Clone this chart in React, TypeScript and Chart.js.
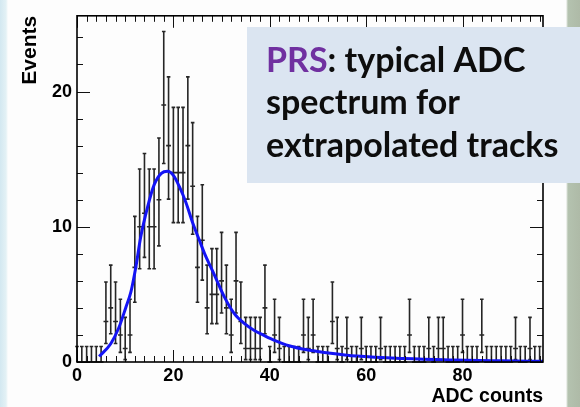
import React, { useEffect, useRef } from "react";
import { Chart, registerables } from "chart.js";

Chart.register(...registerables);

// ---- data ----
const BIN_START = 0; // centre of first bin
const BIN_WIDTH = 1;
const counts = [
  0, 0, 0, 0, 0, 0, 3, 4, 3, 2,
  1, 2, 7, 10, 11, 10, 10, 12, 19, 16,
  14, 14, 14, 16, 13, 7, 9, 4, 5, 5,
  6, 4, 2, 6, 3, 1, 1, 1, 1, 4,
  0, 2, 1, 0, 0, 0, 0, 2, 1, 2,
  0, 0, 0, 3, 1, 0, 1, 0, 0, 1,
  0, 0, 0, 1, 0, 0, 0, 0, 0, 2,
  0, 0, 0, 1, 0, 1, 1, 0, 0, 0,
  2, 0, 0, 0, 2, 0, 0, 0, 0, 0,
  0, 1, 0, 0, 1, 0, 0,
];
const ZERO_BIN_UPPER = 1.15;

const fitX = [4.6, 7.0, 8.7, 10.1, 11.2, 12.2, 13.2, 14.6, 16.0, 17.5, 18.8, 20.0, 21.2, 22.6, 24.0, 25.4, 26.5, 28.5, 30.6, 32.6, 34.7, 36.8, 38.9, 41.0, 44.0, 48.0, 52.0, 58.0, 68.0, 78.0, 88.0, 96.7];
const fitY = [0.4, 1.35, 2.55, 4.0, 5.2, 7.0, 9.2, 11.4, 13.1, 13.95, 14.1, 13.8, 13.0, 11.8, 10.3, 9.0, 8.0, 6.45, 4.8, 3.6, 2.85, 2.33, 1.95, 1.6, 1.2, 0.88, 0.68, 0.44, 0.25, 0.15, 0.09, 0.05];

const xTickValues = [0, 20, 40, 60, 80];
const yTickValues = [0, 10, 20];
const X_MIN = 0;
const X_MAX = 96.7;
const Y_MIN = 0;
const Y_MAX = 25.6;
const X_MINOR_STEP = 2;
const Y_MINOR_STEP = 2;

const xTitle = "ADC counts";
const yTitle = "Events";
const boxLines: { text: string; color: string }[][] = [
  [{ text: "PRS", color: "#7030a0" }, { text: ": typical ADC", color: "#0d0d0d" }],
  [{ text: "spectrum for", color: "#0d0d0d" }],
  [{ text: "extrapolated tracks", color: "#0d0d0d" }],
];

// ---- Poisson (Garwood) error interval ----
function poissonCdf(n: number, mu: number) {
  let term = Math.exp(-mu);
  let sum = term;
  for (let k = 1; k <= n; k++) {
    term *= mu / k;
    sum += term;
  }
  return sum;
}
function solveMu(n: number, target: number) {
  let lo = 0, hi = 100;
  for (let i = 0; i < 80; i++) {
    const mid = (lo + hi) / 2;
    if (poissonCdf(n, mid) > target) lo = mid; else hi = mid;
  }
  return (lo + hi) / 2;
}
function interval(n: number): [number, number] {
  if (n === 0) return [0, ZERO_BIN_UPPER];
  const a = 0.158655;
  return [solveMu(n - 1, 1 - a), solveMu(n, a)];
}

const histPoints = counts.map((c, i) => ({ x: BIN_START + i * BIN_WIDTH, y: c }));
const fitPoints = fitX.map((x, i) => ({ x, y: fitY[i] }));

const histPlugin = {
  id: "histErrors",
  beforeDatasetsDraw(chart: any) {
    const { ctx, scales } = chart;
    const xs = scales.x, ys = scales.y;
    ctx.save();
    ctx.strokeStyle = "#262626";
    ctx.lineWidth = 1.6;
    ctx.beginPath();
    histPoints.forEach((p) => {
      const [lo, hi] = interval(p.y);
      const px = xs.getPixelForValue(p.x);
      const xl = xs.getPixelForValue(p.x - BIN_WIDTH / 2);
      const xr = xs.getPixelForValue(p.x + BIN_WIDTH / 2);
      const py = ys.getPixelForValue(p.y);
      const pl = ys.getPixelForValue(lo);
      const ph = ys.getPixelForValue(hi);
      ctx.moveTo(px, pl);
      ctx.lineTo(px, ph);
      ctx.moveTo(px - 1.8, ph);
      ctx.lineTo(px + 1.8, ph);
      if (p.y > 0) {
        ctx.moveTo(px - 1.8, pl);
        ctx.lineTo(px + 1.8, pl);
      }
      ctx.moveTo(Math.max(xl, chart.chartArea.left), py);
      ctx.lineTo(Math.min(xr, chart.chartArea.right), py);
    });
    ctx.stroke();
    ctx.restore();
  },
};

const framePlugin = {
  id: "frameTicks",
  afterDatasetsDraw(chart: any) {
    const { ctx, chartArea: a, scales } = chart;
    const xs = scales.x, ys = scales.y;
    ctx.save();
    ctx.strokeStyle = "#111";
    ctx.lineWidth = 1;
    ctx.beginPath();
    for (let v = X_MIN; v <= X_MAX + 1e-6; v += X_MINOR_STEP) {
      const px = Math.round(xs.getPixelForValue(v)) + 0.5;
      const major = xTickValues.includes(Math.round(v)) && Math.abs(v - Math.round(v)) < 1e-6;
      const len = major ? 12 : 6;
      ctx.moveTo(px, a.bottom);
      ctx.lineTo(px, a.bottom - len);
      ctx.moveTo(px, a.top);
      ctx.lineTo(px, a.top + len);
    }
    for (let v = Y_MIN; v <= Y_MAX + 1e-6; v += Y_MINOR_STEP) {
      const py = Math.round(ys.getPixelForValue(v)) + 0.5;
      const major = yTickValues.includes(Math.round(v)) && Math.abs(v - Math.round(v)) < 1e-6;
      const len = major ? 13 : 6;
      ctx.moveTo(a.left, py);
      ctx.lineTo(a.left + len, py);
      ctx.moveTo(a.right, py);
      ctx.lineTo(a.right - len, py);
    }
    ctx.stroke();
    ctx.lineWidth = 1.6;
    ctx.strokeStyle = "#000";
    ctx.strokeRect(a.left, a.top, a.right - a.left, a.bottom - a.top);
    ctx.restore();
  },
};

const boxPlugin = {
  id: "textBox",
  afterDraw(chart: any) {
    const { ctx } = chart;
    ctx.save();
    ctx.fillStyle = "#dbe5f1";
    ctx.fillRect(247, 27, 333, 156);
    ctx.font = "bold 34px Lato, 'Open Sans', sans-serif";
    ctx.textBaseline = "alphabetic";
    ctx.textAlign = "left";
    const baselines = [72, 114, 157];
    boxLines.forEach((line, i) => {
      let x = 266;
      line.forEach((seg) => {
        ctx.fillStyle = seg.color;
        ctx.fillText(seg.text, x, baselines[i]);
        x += ctx.measureText(seg.text).width;
      });
    });
    ctx.restore();
  },
};

export default function App() {
  const ref = useRef<HTMLCanvasElement | null>(null);
  useEffect(() => {
    if (!ref.current) return;
    const family = "'Liberation Sans', Arial, sans-serif";
    const axisFont = { family, weight: "bold" as const, size: 18 };
    const xTitleFont = { family, weight: "bold" as const, size: 19.5 };
    const yTitleFont = { family, weight: "bold" as const, size: 21 };
    const chart = new Chart(ref.current, {
      type: "scatter",
      data: {
        datasets: [
          {
            type: "scatter",
            data: histPoints,
            pointRadius: 0,
            showLine: false,
          } as any,
          {
            type: "line",
            data: fitPoints,
            borderColor: "#1414f5",
            borderWidth: 3,
            pointRadius: 0,
            fill: false,
            cubicInterpolationMode: "monotone",
          } as any,
        ],
      },
      options: {
        animation: false,
        responsive: false,
        devicePixelRatio: 1,
        layout: { padding: { left: 0, top: 10, right: 37, bottom: 0 } },
        plugins: { legend: { display: false }, tooltip: { enabled: false } },
        scales: {
          x: {
            type: "linear",
            min: X_MIN,
            max: X_MAX,
            grid: { display: false, drawTicks: false },
            border: { display: false },
            afterBuildTicks: (s: any) => {
              s.ticks = xTickValues.map((v) => ({ value: v }));
            },
            afterFit: (s: any) => {
              s.height = 45;
            },
            ticks: { color: "#000", font: axisFont, padding: 3, maxRotation: 0, autoSkip: false },
            title: { display: true, text: xTitle, align: "end", color: "#000", font: xTitleFont, padding: { top: 0, bottom: -1 } },
          },
          y: {
            type: "linear",
            min: Y_MIN,
            max: Y_MAX,
            grid: { display: false, drawTicks: false },
            border: { display: false },
            afterBuildTicks: (s: any) => {
              s.ticks = yTickValues.map((v) => ({ value: v }));
            },
            afterFit: (s: any) => {
              s.width = 77;
            },
            ticks: { color: "#000", font: axisFont, padding: 5, autoSkip: false },
            title: { display: true, text: yTitle, align: "end", color: "#000", font: yTitleFont, padding: { top: 18, bottom: 0 } },
          },
        },
      } as any,
      plugins: [histPlugin, framePlugin, boxPlugin],
    });
    return () => chart.destroy();
  }, []);

  return (
    <div
      style={{
        position: "fixed",
        left: 0,
        top: 0,
        width: 580,
        height: 407,
        background:
          "linear-gradient(90deg, #d3e8f1 0px, #e3f1f5 6px, #fdfdfd 8px, #fdfdfd 566px, #b4c2af 568px, #aebaa7 580px)",
      }}
    >
      <canvas ref={ref} width={580} height={407} style={{ display: "block" }} />
    </div>
  );
}
